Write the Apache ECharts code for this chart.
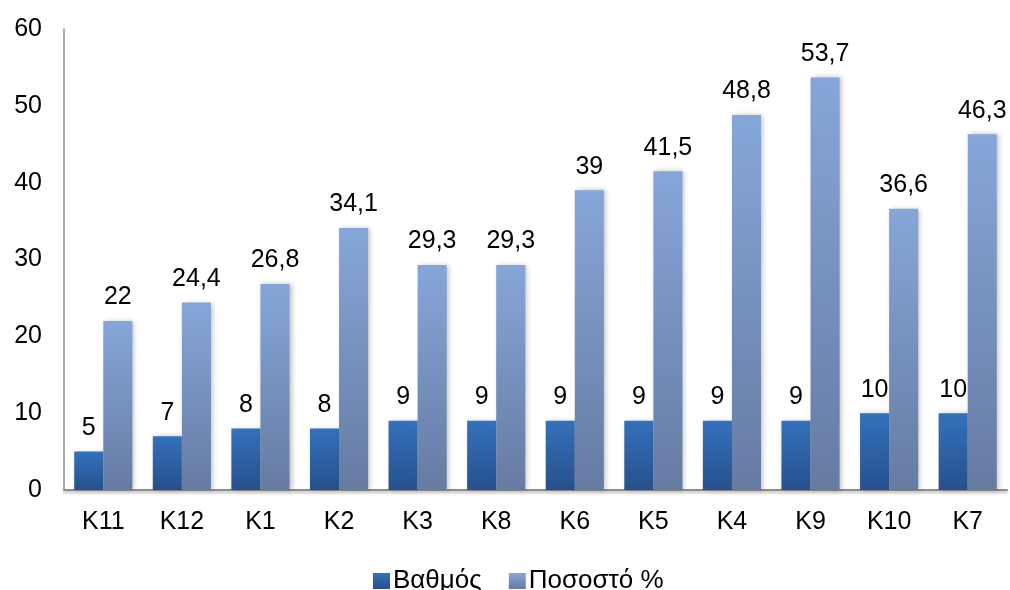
<!DOCTYPE html>
<html>
<head>
<meta charset="utf-8">
<script src="https://cdn.jsdelivr.net/npm/echarts@6/dist/echarts.min.js"></script>
<style>
  html, body { margin: 0; padding: 0; background: #fff; }
  #chart { width: 1010px; height: 590px; }
</style>
</head>
<body>
<div id="chart"></div>
<script>
// Class codes along the x axis
const categories = ['K11', 'K12', 'K1', 'K2', 'K3', 'K8', 'K6', 'K5', 'K4', 'K9', 'K10', 'K7'];
// Grade per class
const grade = [5, 7, 8, 8, 9, 9, 9, 9, 9, 9, 10, 10];
// Percentage per class
const percent = [22, 24.4, 26.8, 34.1, 29.3, 29.3, 39, 41.5, 48.8, 53.7, 36.6, 46.3];
const seriesNames = ['Βαθμός', 'Ποσοστό %'];

const FONT = 'Liberation Sans, Arial, sans-serif';

function grad(top, bottom) {
  return new echarts.graphic.LinearGradient(0, 0, 0, 1, [
    { offset: 0, color: top },
    { offset: 1, color: bottom }
  ]);
}

const fmt = p => String(p.value).replace('.', ',');

const labelStyle = {
  show: true,
  position: 'top',
  distance: 11,
  color: '#000',
  fontFamily: FONT,
  fontSize: 25,
  formatter: fmt
};

const chart = echarts.init(document.getElementById('chart'), null, { renderer: 'canvas' });
chart.setOption({
  animation: false,
  backgroundColor: '#fff',
  grid: { left: 64, right: 3, top: 29, bottom: 100, containLabel: false },
  legend: {
    top: 563,
    left: 368,
    itemWidth: 17,
    itemHeight: 16,
    itemGap: 27,
    icon: 'rect',
    textStyle: { fontFamily: FONT, fontSize: 26, color: '#000', padding: [0, 0, 0, -2] },
    data: seriesNames
  },
  xAxis: {
    type: 'category',
    data: categories,
    axisLine: {
      show: true,
      lineStyle: { color: '#8c8c8c', width: 2, shadowColor: 'rgba(0,0,0,0.3)', shadowBlur: 3, shadowOffsetY: 2 }
    },
    axisTick: { show: false },
    axisLabel: { color: '#000', fontFamily: FONT, fontSize: 25, margin: 20 }
  },
  yAxis: {
    type: 'value',
    min: 0,
    max: 60,
    interval: 10,
    splitLine: { show: false },
    axisLine: { show: true, lineStyle: { color: '#8c8c8c', width: 1.5 } },
    axisTick: { show: false },
    axisLabel: { color: '#000', fontFamily: FONT, fontSize: 25, margin: 22 }
  },
  series: [
    {
      name: seriesNames[0],
      type: 'bar',
      data: grade,
      barGap: '0%',
      barCategoryGap: '26%',
      itemStyle: {
        color: grad('#3471bb', '#27508c'),
        shadowColor: 'rgba(0,0,0,0.25)',
        shadowBlur: 5,
        shadowOffsetX: 2
      },
      label: labelStyle
    },
    {
      name: seriesNames[1],
      type: 'bar',
      data: percent,
      barGap: '0%',
      barCategoryGap: '26%',
      itemStyle: {
        color: grad('#86a6d9', '#667ba2'),
        shadowColor: 'rgba(0,0,0,0.25)',
        shadowBlur: 5,
        shadowOffsetX: 2
      },
      label: labelStyle
    }
  ]
});
</script>
</body>
</html>
